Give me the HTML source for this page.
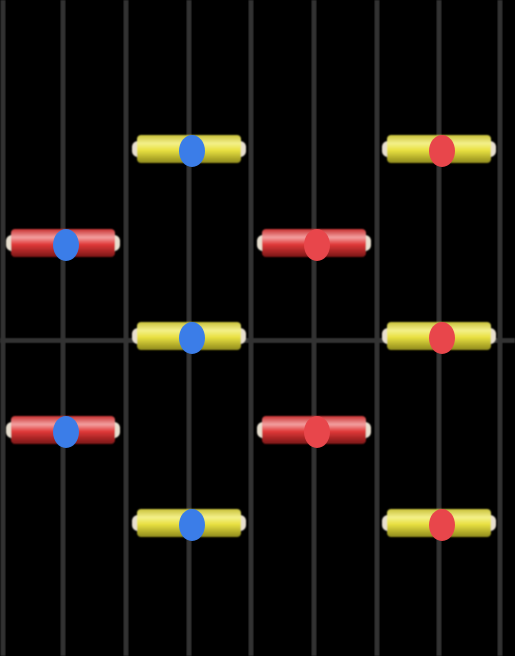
<!DOCTYPE html>
<html><head><meta charset="utf-8"><style>
html,body{margin:0;padding:0;background:#000;width:515px;height:656px;overflow:hidden}
</style></head><body>
<svg id="c" width="515" height="656" xmlns="http://www.w3.org/2000/svg">
<defs>
<linearGradient id="yg" x1="0" y1="0" x2="0" y2="1">
<stop offset="0" stop-color="#c9c23a"/><stop offset="0.3" stop-color="#f4f08a"/><stop offset="0.55" stop-color="#e8e040"/><stop offset="1" stop-color="#8f8a1c"/></linearGradient>
<linearGradient id="rg" x1="0" y1="0" x2="0" y2="1">
<stop offset="0" stop-color="#c83030"/><stop offset="0.3" stop-color="#f3a0a0"/><stop offset="0.55" stop-color="#e03838"/><stop offset="1" stop-color="#7a1616"/></linearGradient>
<filter id="bl"><feGaussianBlur stdDeviation="0.8"/></filter>
</defs>
<rect width="515" height="656" fill="#000"/>
<g id="grid"></g>
<g id="notes"></g>
<g id="marks"></g>
</svg>
<script>
const laneX = [3, 63, 126, 189, 251, 314, 377, 439, 500];
const noteLanes = [1, 3, 5, 7, 3, 7, 1, 5, 3, 7];
const noteRows = [1, 0, 1, 0, 2, 2, 3, 3, 4, 4];
const noteColors = ['red','yellow','red','yellow','yellow','yellow','red','red','yellow','yellow'];
const rowY = [149, 243, 336, 430, 523];
const markLanes = [3, 1, 3, 1, 3, 7, 5, 7, 5, 7];
const markRows = [0, 1, 2, 3, 4, 0, 1, 2, 3, 4];
const markColors = ['#3b7de8','#3b7de8','#3b7de8','#3b7de8','#3b7de8','#e8464b','#e8464b','#e8464b','#e8464b','#e8464b'];
const NS='http://www.w3.org/2000/svg';
const x = i => laneX[i];
const y = r => [149,243,336,430,523][r];
const grid=document.getElementById('grid');
laneX.forEach((lx,i)=>{
  const l=document.createElementNS(NS,'rect');
  l.setAttribute('x',lx-2.5);l.setAttribute('y',0);l.setAttribute('width',5);l.setAttribute('height',656);
  l.setAttribute('fill','#333');l.setAttribute('filter','url(#bl)');
  
  
  grid.appendChild(l);
});
const h=document.createElementNS(NS,'rect');
h.setAttribute('x',0);h.setAttribute('y',338);h.setAttribute('width',515);h.setAttribute('height',5);h.setAttribute('fill','#333');h.setAttribute('filter','url(#bl)');


grid.appendChild(h);
const notes=document.getElementById('notes');
noteLanes.forEach((ln,i)=>{
  const cx=x(ln), cy=y(noteRows[i]);
  const g=document.createElementNS(NS,'g');
  
  
  g.setAttribute('filter','url(#bl)');
  const cap=document.createElementNS(NS,'rect');
  cap.setAttribute('x',cx-57);cap.setAttribute('y',cy-8);cap.setAttribute('width',114);cap.setAttribute('height',16);cap.setAttribute('rx',6);cap.setAttribute('fill','#e8e0d0');
  g.appendChild(cap);
  const b=document.createElementNS(NS,'rect');
  b.setAttribute('x',cx-52);b.setAttribute('y',cy-14);b.setAttribute('width',104);b.setAttribute('height',28);b.setAttribute('rx',4);
  b.setAttribute('fill',noteColors[i]==='red'?'url(#rg)':'url(#yg)');
  g.appendChild(b);
  notes.appendChild(g);
});
const marks=document.getElementById('marks');
markLanes.forEach((ln,i)=>{
  const e=document.createElementNS(NS,'ellipse');
  e.setAttribute('cx',x(ln)+3);e.setAttribute('cy',y(markRows[i])+2);e.setAttribute('rx',13);e.setAttribute('ry',16);
  e.setAttribute('fill',markColors[i]);
  
  
  marks.appendChild(e);
});
</script>
</body></html>
